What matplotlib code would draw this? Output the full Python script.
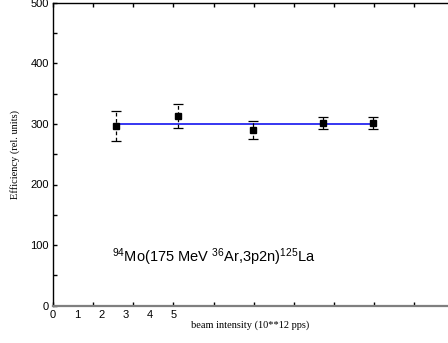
import numpy as np
import matplotlib
matplotlib.use("Agg")
from matplotlib import pyplot as plt
import matplotlib.transforms as mtransforms

# data (x in units of the printed tick labels)
beam = [2.6, 5.2, 8.3, 11.2, 13.3]
eff = [297, 313, 290, 302, 302]
err = [25, 20, 15, 10, 10]
fit_level = 300
ytick_vals = [0, 100, 200, 300, 400, 500]
xtick_labels = ["0", "1", "2", "3", "4", "5"]
reaction = r"$^{94}$Mo(175 MeV $^{36}$Ar,3p2n)$^{125}$La"

plt.rcParams["mathtext.fontset"] = "custom"
plt.rcParams["mathtext.rm"] = "Liberation Sans"
plt.rcParams["mathtext.default"] = "regular"

fig = plt.figure(figsize=(4.48, 3.43), dpi=100)
ax = fig.add_axes([53 / 448, 1 - 305.7 / 343, 1 - 53 / 448, (305.7 - 2.7) / 343])

# fit line
ax.plot([beam[0], beam[-1]], [fit_level, fit_level], color="#0000ee", lw=1.1, zorder=2)

# points with error bars
for i, (x, y, e) in enumerate(zip(beam, eff, err)):
    eb = ax.errorbar(x, y, yerr=e, fmt="s", color="black", ms=4.2, capsize=3.5,
                     elinewidth=0.9, capthick=0.9, zorder=3)
    if i < 3:
        eb[2][0].set_linestyle((0, (3, 2)))

ax.set_xlim(0, 16.4)
ax.set_ylim(0, 500)

# tick marks every 5/3 label units, labels 0..5 at their own spots
ax.set_xticks(np.arange(0, 16.4, 5 / 3))
ax.set_xticklabels([])
ax.tick_params(axis="x", which="major", direction="in", length=3, width=1,
               top=True, bottom=True)
trans = mtransforms.blended_transform_factory(ax.transData, ax.transAxes)
for i, lab in enumerate(xtick_labels):
    ax.text(i, -0.014, lab, transform=trans, ha="center", va="top",
            fontsize=8, family="Liberation Sans")

ax.set_yticks(ytick_vals)
ax.set_yticks(np.arange(50, 500, 100), minor=True)
ax.tick_params(axis="y", which="both", direction="in", length=3, width=1,
               labelsize=8, pad=3)
for lab in ax.get_yticklabels():
    lab.set_family("Liberation Sans")

ax.spines["right"].set_visible(False)
ax.spines["bottom"].set_color("#7f7f7f")
ax.spines["bottom"].set_linewidth(1.6)
ax.spines["left"].set_linewidth(1.0)
ax.spines["top"].set_linewidth(1.0)

ax.set_xlabel("beam intensity (10**12 pps)", family="Liberation Serif", fontsize=7.5)
ax.set_ylabel("Efficiency (rel. units)", family="Liberation Serif", fontsize=7.5)
ax.xaxis.set_label_coords(0.5, -0.05)
ax.yaxis.set_label_coords(-0.084, 0.5)

ax.text(2.45, 80, reaction, fontsize=10.5, family="Liberation Sans", va="center", ha="left")

fig.savefig("out.png", dpi=100)
